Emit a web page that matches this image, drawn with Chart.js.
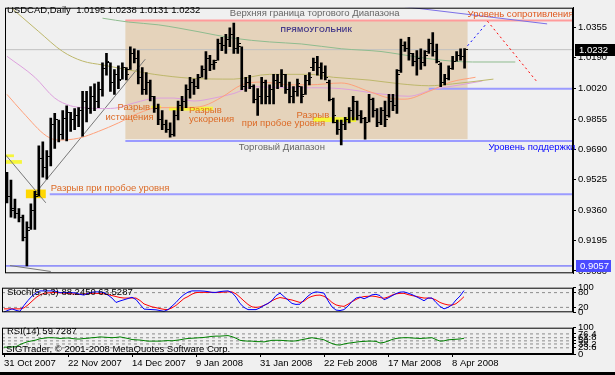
<!DOCTYPE html>
<html>
<head>
<meta charset="utf-8">
<script src="https://cdn.jsdelivr.net/npm/chart.js@4.4.1/dist/chart.umd.min.js"></script>
<style>
  html, body { margin: 0; padding: 0; background: #000; }
  #wrap { position: relative; width: 615px; height: 372px; background: #f0f0f0; overflow: hidden; }
  canvas { position: absolute; left: 0; }
  .lbl { position: absolute; font: 9.5px "Liberation Sans", Arial, sans-serif; color: #000; white-space: pre; line-height: 11px; z-index: 2; }
</style>
</head>
<body>
<div id="wrap">
  <canvas id="cMain" width="615" height="281" style="top:0"></canvas>
  <canvas id="cStoch" width="615" height="40" style="top:280px"></canvas>
  <canvas id="cRsi" width="615" height="52" style="top:320px"></canvas>
  <div class="lbl" style="left:7px;top:4px">USDCAD,Daily  1.0195 1.0238 1.0131 1.0232</div>
  <div class="lbl" style="left:7px;top:286px">Stoch(5,3,3) 88.2450 63.5287</div>
  <div class="lbl" style="left:7px;top:325px">RSI(14) 59.7287</div>
  <div class="lbl" style="left:6px;top:343px">SIGTrader, © 2001-2008 MetaQuotes Software Corp.</div>
</div>
<script>
/* ─────────────────────────────────────────
   ДАННЫЕ (USDCAD, Daily, 31 Oct 2007 – 11 Apr 2008)
───────────────────────────────────────── */
const dateLabels = ["31 Oct 2007", "22 Nov 2007", "14 Dec 2007", "9 Jan 2008",
                    "31 Jan 2008", "22 Feb 2008", "17 Mar 2008", "8 Apr 2008"];
const dateIdx = [0, 16, 32, 48, 64, 80, 96, 112];
const priceTicks = [1.0355, 1.0190, 1.0020, 0.9855, 0.9690, 0.9525, 0.9360, 0.9195, 0.9030];

const opens = [
  0.9514, 0.9436, 0.9369, 0.9343, 0.9322, 0.9214, 0.9265, 0.9358, 0.9446, 0.9643,
  0.9591, 0.9653, 0.9824, 0.9850, 0.9772, 0.9860, 0.9891, 0.9850, 0.9875, 0.9901,
  0.9953, 0.9912, 0.9979, 0.9953, 1.0015, 1.0129, 1.0160, 1.0056, 1.0098, 1.0072,
  1.0134, 1.0124, 1.0212, 1.0186, 1.0082, 1.0015, 1.0056, 0.9979, 0.9912, 0.9850,
  0.9824, 0.9798, 0.9772, 0.9875, 0.9927, 0.9953, 1.0015, 1.0056, 1.0031, 1.0082,
  1.0124, 1.0186, 1.0149, 1.0175, 1.0263, 1.0253, 1.0289, 1.0315, 1.0237, 1.0248,
  1.0031, 1.0056, 1.0031, 0.9963, 0.9979, 1.0056, 0.9979, 1.0015, 1.0067, 1.0056,
  1.0098, 1.0015, 0.9979, 1.0005, 1.0031, 0.9989, 1.0067, 1.0134, 1.0160, 1.0134,
  1.0108, 1.0056, 0.9963, 0.9839, 0.9798, 0.9824, 0.9850, 0.9901, 0.9953, 0.9875,
  0.9860, 0.9839, 0.9963, 0.9901, 0.9839, 0.9901, 0.9875, 0.9953, 0.9927, 1.0118,
  1.0253, 1.0237, 1.0212, 1.0170, 1.0186, 1.0160, 1.0222, 1.0263, 1.0222, 1.0149,
  1.0056, 1.0077, 1.0129, 1.0170, 1.0201, 1.0195
];
const highs = [
  0.9565, 0.9524, 0.9420, 0.9369, 0.9333, 0.9296, 0.9395, 0.9462, 0.9710, 0.9731,
  0.9684, 0.9860, 0.9886, 0.9850, 0.9901, 0.9927, 0.9891, 0.9912, 0.9917, 1.0005,
  1.0005, 1.0031, 1.0046, 1.0056, 1.0160, 1.0212, 1.0160, 1.0124, 1.0144, 1.0160,
  1.0134, 1.0248, 1.0237, 1.0227, 1.0134, 1.0108, 1.0067, 0.9979, 0.9937, 0.9901,
  0.9850, 0.9834, 0.9901, 0.9953, 0.9979, 1.0041, 1.0082, 1.0072, 1.0098, 1.0144,
  1.0222, 1.0201, 1.0175, 1.0289, 1.0299, 1.0315, 1.0351, 1.0377, 1.0299, 1.0248,
  1.0082, 1.0093, 1.0041, 1.0020, 1.0082, 1.0067, 1.0041, 1.0098, 1.0098, 1.0124,
  1.0098, 1.0056, 1.0031, 1.0072, 1.0031, 1.0093, 1.0108, 1.0186, 1.0196, 1.0160,
  1.0144, 1.0067, 0.9969, 0.9850, 0.9850, 0.9865, 0.9917, 0.9979, 0.9953, 0.9901,
  0.9865, 0.9989, 0.9969, 0.9912, 0.9917, 0.9953, 0.9989, 0.9989, 1.0124, 1.0289,
  1.0274, 1.0299, 1.0212, 1.0227, 1.0237, 1.0227, 1.0289, 1.0325, 1.0263, 1.0160,
  1.0098, 1.0144, 1.0196, 1.0222, 1.0237, 1.0238
];
const lows = [
  0.9400, 0.9322, 0.9317, 0.9296, 0.9193, 0.9057, 0.9255, 0.9255, 0.9436, 0.9539,
  0.9529, 0.9601, 0.9695, 0.9731, 0.9746, 0.9736, 0.9788, 0.9798, 0.9813, 0.9762,
  0.9839, 0.9886, 0.9901, 0.9917, 0.9979, 1.0093, 1.0005, 0.9989, 1.0020, 1.0072,
  1.0067, 1.0124, 1.0160, 1.0046, 0.9989, 0.9989, 0.9953, 0.9891, 0.9824, 0.9798,
  0.9782, 0.9757, 0.9762, 0.9850, 0.9901, 0.9917, 0.9969, 0.9989, 1.0020, 1.0082,
  1.0072, 1.0118, 1.0124, 1.0175, 1.0227, 1.0212, 1.0248, 1.0212, 1.0212, 1.0015,
  1.0005, 1.0020, 0.9943, 0.9875, 0.9937, 0.9937, 0.9937, 0.9937, 1.0020, 1.0031,
  0.9994, 0.9943, 0.9943, 0.9979, 0.9943, 0.9989, 1.0041, 1.0118, 1.0093, 1.0072,
  1.0067, 0.9953, 0.9834, 0.9772, 0.9715, 0.9798, 0.9834, 0.9850, 0.9850, 0.9834,
  0.9746, 0.9839, 0.9865, 0.9813, 0.9824, 0.9813, 0.9865, 0.9901, 0.9886, 1.0108,
  1.0222, 1.0175, 1.0144, 1.0093, 1.0124, 1.0144, 1.0212, 1.0196, 1.0160, 1.0031,
  1.0041, 1.0067, 1.0124, 1.0170, 1.0175, 1.0131
];
const closes = [
  0.9436, 0.9358, 0.9343, 0.9322, 0.9214, 0.9250, 0.9358, 0.9436, 0.9643, 0.9591,
  0.9653, 0.9824, 0.9850, 0.9772, 0.9860, 0.9891, 0.9850, 0.9875, 0.9901, 0.9953,
  0.9912, 0.9979, 0.9953, 1.0015, 1.0129, 1.0170, 1.0056, 1.0098, 1.0067, 1.0134,
  1.0098, 1.0212, 1.0186, 1.0082, 1.0015, 1.0056, 0.9979, 0.9912, 0.9850, 0.9824,
  0.9798, 0.9772, 0.9875, 0.9927, 0.9953, 1.0015, 1.0056, 1.0031, 1.0082, 1.0124,
  1.0186, 1.0149, 1.0160, 1.0263, 1.0253, 1.0289, 1.0315, 1.0237, 1.0263, 1.0031,
  1.0056, 1.0031, 0.9963, 0.9979, 1.0056, 0.9979, 1.0015, 1.0067, 1.0056, 1.0098,
  1.0015, 0.9979, 1.0005, 1.0046, 0.9979, 1.0067, 1.0082, 1.0160, 1.0134, 1.0108,
  1.0082, 0.9963, 0.9875, 0.9798, 0.9824, 0.9850, 0.9901, 0.9953, 0.9875, 0.9860,
  0.9839, 0.9963, 0.9901, 0.9839, 0.9901, 0.9850, 0.9953, 0.9927, 1.0098, 1.0253,
  1.0237, 1.0212, 1.0170, 1.0186, 1.0160, 1.0201, 1.0263, 1.0222, 1.0170, 1.0056,
  1.0077, 1.0129, 1.0170, 1.0201, 1.0196, 1.0232
];

// скользящие средние (бар, цена) — точки
const maGreenX  = [24, 30.5, 38, 48, 57, 66, 74, 84, 94, 99, 107, 117, 127.75];
const maGreen   = [1.0403, 1.0382, 1.0367, 1.0330, 1.0294, 1.0274, 1.0263, 1.0237, 1.0222, 1.0206, 1.0180, 1.0165, 1.0165];
const maOliveX  = [0, 8, 14, 19, 24, 30, 37, 46, 57, 66, 76, 82, 91, 99, 106, 112, 122.25];
const maOlive   = [1.0480, 1.0330, 1.0222, 1.0170, 1.0149, 1.0124, 1.0098, 1.0077, 1.0072, 1.0098, 1.0098, 1.0082, 1.0067, 1.0046, 1.0036, 1.0046, 1.0072];
const maSalmonX = [0, 4, 10, 13, 18, 23, 28, 33, 38, 45, 49.5, 54, 59, 64, 71, 76, 84, 91, 96, 100, 106, 111.5, 117.75];
const maSalmon  = [0.9989, 0.9891, 0.9762, 0.9741, 0.9751, 0.9788, 0.9834, 0.9886, 0.9917, 0.9917, 0.9927, 0.9974, 1.0041, 1.0056, 1.0041, 1.0041, 1.0051, 1.0005, 0.9969, 0.9963, 1.0005, 1.0056, 1.0082];
const maPlumX   = [0, 7, 12, 16, 19, 24, 28, 32, 38, 42, 47, 52, 57, 62, 71, 76.5, 84, 93, 101, 107, 114, 119.5];
const maPlum    = [1.0196, 1.0082, 0.9969, 0.9927, 0.9917, 0.9912, 0.9917, 0.9943, 0.9969, 0.9969, 0.9953, 0.9969, 0.9994, 1.0031, 1.0025, 1.0025, 1.0020, 0.9994, 0.9979, 1.0015, 1.0041, 1.0062];
const maBlueX   = [100, 135.75];
const maBlue    = [1.0465, 1.0372];

// трендовые линии и прогноз
const trendUpX = [7.5, 34.75],   trendUp = [0.9462, 1.0180];
const trendDnX = [-0.25, 9.75],  trendDn = [0.9658, 0.9400];
const trendLoX = [0.75, 11],     trendLo = [0.9059, 0.9027];
const projUpX  = [115.75, 120.25], projUp = [1.0253, 1.0367];
const projDnX  = [120.75, 133.25], projDn = [1.0387, 1.0056];

// горизонтальные уровни: цена и бар, с которого начинается линия
const resistance = 1.0390, resistanceFrom = 29.75;
const support = 0.9736,    supportFrom = 29.75;
const level1020 = 1.0020,  level1020From = 106;
const level9446 = 0.9446,  level9446From = 10.75;
const lowLevel = 0.9057;
const bid = 1.0232;

// прямоугольник торгового диапазона и метки разрывов
const rangeBox = [29.75, 115.75, 1.0392, 0.9746];      // от бара, до бара, верх, низ
const gapFrom = [36.25, 40.75, 77, -0.25, -0.25];
const gapTo   = [38.75, 51.75, 87.75, 1.75, 3.75];
const gapTop  = [0.9927, 0.9922, 0.9865, 0.9663, 0.9632];
const gapBot  = [0.9912, 0.9901, 0.9839, 0.9648, 0.9612];
const breakBox = [4.75, 9.75, 0.9472, 0.9425];

// текстовые подписи на графике
const noteText  = ["Верхняя граница торгового Диапазона", "Уровень сопротивления", "ПРЯМОУГОЛЬНИК",
                   "Разрыв", "истощения", "Разрыв", "ускорения", "Разрыв", "при пробое уровня",
                   "Разрыв при пробое уровня", "Торговый Диапазон", "Уровень поддержки"];
const noteBar   = [56, 115.75, 68.75, 27.75, 24.75, 45.75, 45.75, 72.75, 59, 11, 58.25, 121];
const notePrice = [1.0429, 1.0423, 1.0341, 0.9917, 0.9865, 0.9901, 0.9855, 0.9875, 0.9829, 0.9477, 0.9700, 0.9700];

// индикаторы
const stochMain = [
  1, 8, 14, 8, 4, 28, 48, 66, 78, 87,
  87, 87, 87, 85, 80, 80, 80, 80, 78, 73,
  70, 77, 82, 83, 83, 80, 70, 58, 40, 46,
  51, 56, 61, 52, 32, 13, 12, 11, 10, 7,
  4, 11, 25, 40, 58, 72, 82, 87, 87, 87,
  86, 84, 81, 81, 84, 86, 87, 80, 62, 36,
  20, 11, 11, 11, 18, 28, 36, 48, 68, 78,
  64, 50, 36, 32, 33, 50, 66, 78, 83, 81,
  78, 47, 22, 9, 7, 11, 25, 44, 58, 62,
  55, 62, 71, 73, 68, 51, 58, 67, 76, 82,
  83, 78, 72, 64, 56, 47, 58, 58, 40, 24,
  14, 20, 30, 50, 66, 88.245
];
const stochSignal = [
  14, 14, 14, 14, 14, 18, 30, 45, 60, 71,
  77, 79, 80, 80, 79, 78, 77, 75, 74, 73,
  74, 76, 77, 77, 76, 75, 72, 68, 64, 60,
  58, 58, 58, 58, 48, 34, 28, 22, 19, 15,
  12, 11, 18, 28, 42, 56, 64, 74, 80, 81,
  81, 81, 81, 80, 81, 82, 83, 83, 75, 61,
  46, 32, 22, 20, 22, 28, 36, 47, 55, 60,
  57, 53, 50, 45, 40, 45, 58, 65, 69, 70,
  65, 55, 40, 30, 26, 24, 33, 43, 52, 60,
  64, 65, 66, 64, 60, 57, 62, 70, 75, 77,
  77, 72, 68, 65, 61, 58, 58, 57, 50, 40,
  34, 30, 29, 35, 48, 63.5287
];
const rsiValues = [
  26, 26, 27, 28, 36, 42, 47, 50, 53, 58,
  60, 62, 62, 61, 59, 60, 61, 59, 57, 57,
  59, 60, 62, 63, 65, 64, 63, 62, 63, 65,
  62, 59, 55, 54, 53, 51, 49, 49, 49, 49,
  50, 51, 50, 52, 54, 57, 59, 60, 61, 62,
  63, 65, 67, 68, 68, 69, 70, 66, 60, 52,
  50, 49, 49, 47, 47, 46, 49, 52, 52, 52,
  51, 50, 49, 50, 53, 56, 59, 62, 59, 57,
  54, 46, 40, 35, 34, 38, 41, 43, 45, 47,
  48, 49, 49, 48, 42, 44, 49, 55, 59, 61,
  62, 62, 61, 60, 59, 60, 61, 62, 55, 49,
  50, 54, 55, 56, 57, 59.7287
];
const stochTicks = [100, 80, 20, 0];
const stochLevels = [80, 20];
const rsiTicks = [100, 76.4, 61.8, 50, 38.2, 23.6, 0];
const rsiLevels = [76.4, 61.8, 50, 38.2, 23.6];

/* ─────────────────────────────────────────
   ХЕЛПЕРЫ
───────────────────────────────────────── */
const FONT = '"Liberation Sans", Arial, sans-serif';
const X_MIN = -0.5, X_MAX = 142.25;
const barIdx = opens.map((_, i) => i);

const pts = (xs, ys) => xs.map((x, k) => ({ x, y: ys[k] }));
const series = vals => vals.map((v, i) => ({ x: i, y: v }));
const hline = (from, price) => [{ x: from, y: price }, { x: X_MAX, y: price }];

function lineDs(data, color, extra) {
  return Object.assign({
    type: "line", data, borderColor: color, borderWidth: 1,
    pointRadius: 0, fill: false, order: 3
  }, extra || {});
}

// засечки open/close: маленькая картинка 6x1, рисуется через pointStyle
function tickImg(offset) {
  const c = document.createElement("canvas");
  c.width = 6; c.height = 1;
  const g = c.getContext("2d");
  g.fillStyle = "#000";
  g.fillRect(offset, 0, 2, 1);
  return c;
}

function xScale(show) {
  return {
    type: "linear", min: X_MIN, max: X_MAX, offset: false, display: show,
    afterBuildTicks: s => { s.ticks = dateIdx.map(v => ({ value: v })); },
    afterFit: s => { if (show) s.height = 18; },
    grid: { drawOnChartArea: false, drawTicks: true, tickLength: 3, color: "#000" },
    border: { display: true, color: "#000" },
    ticks: {
      align: "start", padding: 1, maxRotation: 0, autoSkip: false, color: "#000",
      font: { family: FONT, size: 9.5 },
      callback: v => dateLabels[dateIdx.indexOf(v)] || ""
    }
  };
}

function yScale(min, max, tickVals, fmt) {
  return {
    type: "linear", position: "right", min, max,
    afterBuildTicks: s => { s.ticks = tickVals.map(v => ({ value: v })); },
    afterFit: s => { s.width = 42; },
    grid: { drawOnChartArea: false, drawTicks: true, tickLength: 3, color: "#000" },
    border: { display: true, color: "#000" },
    ticks: { padding: 2, autoSkip: false, color: "#000", font: { family: FONT, size: 9.5 }, callback: fmt }
  };
}

const framePlugin = {
  id: "frame",
  afterDraw(chart) {
    const { ctx, chartArea: a } = chart;
    ctx.save();
    ctx.strokeStyle = "#000";
    ctx.lineWidth = 1;
    ctx.strokeRect(a.left + 0.5, a.top + 0.5, a.right - a.left - 1, a.bottom - a.top - 1);
    ctx.restore();
  }
};

/* прямоугольники: диапазон (бежевый) и метки разрывов (жёлтые) */
const boxPlugin = {
  id: "boxes",
  beforeDatasetsDraw(chart) {
    const { ctx, chartArea: a, scales: { x, y } } = chart;
    const rect = (b, color) => {
      const l = x.getPixelForValue(b[0]), r = x.getPixelForValue(b[1]);
      const t = y.getPixelForValue(b[2]), btm = y.getPixelForValue(b[3]);
      ctx.fillStyle = color;
      ctx.fillRect(l, t, r - l, btm - t);
    };
    ctx.save();
    ctx.beginPath();
    ctx.rect(a.left, a.top, a.right - a.left, a.bottom - a.top);
    ctx.clip();
    rect(rangeBox, "#e5d3bb");
    gapFrom.forEach((_, k) => rect([gapFrom[k], gapTo[k], gapTop[k], gapBot[k]], "#f6f63a"));
    rect(breakBox, "#ffd700");
    ctx.restore();
  }
};

/* подписи, привязанные к бару и цене */
const noteColors = ["#666666", "#e0561b", "#483d8b", "#dc6a26", "#dc6a26", "#dc6a26", "#dc6a26",
                    "#dc6a26", "#dc6a26", "#dc6a26", "#666666", "#0000ff"];
const notePlugin = {
  id: "notes",
  afterDatasetsDraw(chart) {
    const { ctx, scales: { x, y } } = chart;
    ctx.save();
    ctx.textAlign = "left";
    ctx.textBaseline = "middle";
    noteText.forEach((t, k) => {
      const bold = t === "ПРЯМОУГОЛЬНИК";
      ctx.font = (bold ? "bold 7.5px " : "9.5px ") + FONT;
      ctx.letterSpacing = bold ? "0.3px" : "0px";
      ctx.fillStyle = noteColors[k];
      ctx.fillText(t, x.getPixelForValue(noteBar[k]), y.getPixelForValue(notePrice[k]));
    });
    ctx.restore();
  }
};

/* ценовые метки на шкале: текущая цена и уровень 0.9057 */
const tagPlugin = {
  id: "tags",
  afterDraw(chart) {
    const { ctx, chartArea: a, scales: { y } } = chart;
    const tag = (price, bg, x0, w) => {
      const py = Math.round(y.getPixelForValue(price));
      ctx.fillStyle = bg;
      ctx.fillRect(x0, py - 6, w, 12);
      ctx.fillStyle = "#fff";
      ctx.font = "9.5px " + FONT;
      ctx.textAlign = "left";
      ctx.textBaseline = "middle";
      ctx.fillText(price.toFixed(4), x0 + 4, py);
    };
    ctx.save();
    tag(bid, "#000", a.right + 2, 40);
    tag(lowLevel, "#4b4bff", a.right + 3, 35);
    ctx.restore();
  }
};

const baseOptions = {
  responsive: false, animation: false, devicePixelRatio: 1, events: [],
  plugins: { legend: { display: false }, tooltip: { enabled: false } }
};

/* ─────────────────────────────────────────
   ОСНОВНОЙ ГРАФИК
───────────────────────────────────────── */
new Chart(document.getElementById("cMain"), {
  type: "line",
  data: {
    datasets: [
      { type: "bar", data: barIdx.map(i => ({ x: i, y: [lows[i], highs[i]] })),
        backgroundColor: "#000", barThickness: 2, order: 0 },
      { type: "line", data: series(opens), showLine: false, pointStyle: tickImg(0), pointRadius: 1, order: 0 },
      { type: "line", data: series(closes), showLine: false, pointStyle: tickImg(4), pointRadius: 1, order: 0 },

      lineDs(pts(maGreenX, maGreen), "#8fbc8f", { cubicInterpolationMode: "monotone", order: 2 }),
      lineDs(pts(maOliveX, maOlive), "#bdb76b", { cubicInterpolationMode: "monotone", order: 2 }),
      lineDs(pts(maSalmonX, maSalmon), "#ffa07a", { cubicInterpolationMode: "monotone", order: 2 }),
      lineDs(pts(maPlumX, maPlum), "#dda0dd", { cubicInterpolationMode: "monotone", order: 2 }),
      lineDs(pts(maBlueX, maBlue), "#7b6fe6", { order: 2 }),

      lineDs(pts(trendUpX, trendUp), "#777777"),
      lineDs(pts(trendDnX, trendDn), "#777777"),
      lineDs(pts(trendLoX, trendLo), "#777777"),
      lineDs(pts(projUpX, projUp), "#0000ff", { borderDash: [2, 3] }),
      lineDs(pts(projDnX, projDn), "#ff0000", { borderDash: [2, 3] }),

      lineDs(hline(resistanceFrom, resistance), "#ff9b9b", { borderWidth: 2, order: 4 }),
      lineDs(hline(supportFrom, support), "#9b9bff", { borderWidth: 2, order: 4 }),
      lineDs(hline(level1020From, level1020), "#9b9bff", { borderWidth: 2, order: 4 }),
      lineDs(hline(level9446From, level9446), "#9b9bff", { borderWidth: 2, order: 4 }),
      lineDs(hline(X_MIN, lowLevel), "#4b4bff", { order: 4 }),
      lineDs(hline(X_MIN, bid), "#c0c0c0", { order: 5 })
    ]
  },
  options: Object.assign({}, baseOptions, {
    layout: { padding: { left: 2, top: 2, right: 0, bottom: 0 } },
    scales: {
      x: xScale(false),
      y: yScale(0.9017, 1.0460, priceTicks, v => v.toFixed(4))
    }
  }),
  plugins: [boxPlugin, notePlugin, framePlugin, tagPlugin]
});

/* ─────────────────────────────────────────
   STOCHASTIC
───────────────────────────────────────── */
new Chart(document.getElementById("cStoch"), {
  type: "line",
  data: {
    datasets: [
      lineDs(series(stochMain), "#0000ff", { order: 0 }),
      lineDs(series(stochSignal), "#ff0000", { order: 1 }),
      ...stochLevels.map(l => lineDs(hline(X_MIN, l), "#8c8c8c", { borderDash: [3, 3], order: 5 }))
    ]
  },
  options: Object.assign({}, baseOptions, {
    layout: { padding: { left: 2, top: 1, right: 0, bottom: 1 } },
    scales: {
      x: xScale(false),
      y: yScale(0, 100, stochTicks, v => String(v))
    }
  }),
  plugins: [framePlugin]
});

/* ─────────────────────────────────────────
   RSI + ось дат
───────────────────────────────────────── */
new Chart(document.getElementById("cRsi"), {
  type: "line",
  data: {
    datasets: [
      lineDs(series(rsiValues), "#008000", { order: 0 }),
      ...rsiLevels.map(l => lineDs(hline(X_MIN, l), "#8c8c8c", { borderDash: [3, 3], order: 5 }))
    ]
  },
  options: Object.assign({}, baseOptions, {
    layout: { padding: { left: 2, top: 1, right: 0, bottom: 0 } },
    scales: {
      x: xScale(true),
      y: yScale(0, 100, rsiTicks, v => String(v))
    }
  }),
  plugins: [framePlugin]
});
</script>
</body>
</html>
